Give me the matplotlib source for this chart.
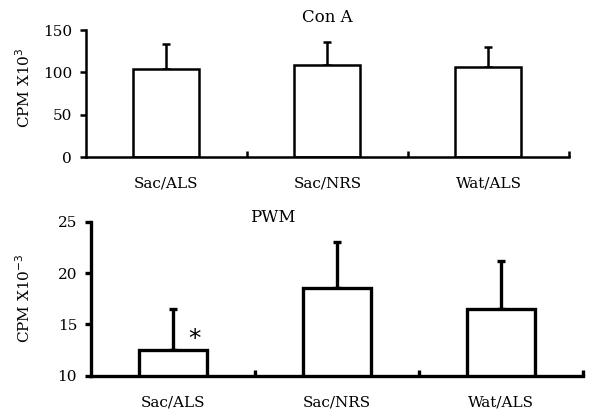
import matplotlib.pyplot as plt
import numpy as np

# data
groups = ["Sac/ALS", "Sac/NRS", "Wat/ALS"]
cona_mean = [103.5, 108.5, 106]
cona_err = [30, 27, 24.5]
pwm_mean = [12.5, 18.55, 16.55]
pwm_err = [4.05, 4.5, 4.6]

plt.rcParams['font.family'] = ['DejaVu Serif', 'DejaVu Sans']
plt.rcParams['font.size'] = 11

fig = plt.figure(figsize=(5.89, 4.17), dpi=100)
x = np.arange(len(groups)) + 0.5


def draw(ax, mean, err, ylim, yticks, lw, title, tx, ty):
    ax.bar(x, mean, width=0.41, color='white', edgecolor='black', linewidth=lw,
           zorder=2)
    ax.errorbar(x, mean, yerr=[np.zeros(len(err)), err], fmt='none',
                ecolor='black', elinewidth=lw, capsize=3, capthick=lw, zorder=1)
    ax.set_xlim(0, 3)
    ax.set_ylim(*ylim)
    ax.set_yticks(yticks)
    ax.set_xticks(x)
    ax.set_xticklabels(groups)
    ax.tick_params(axis='x', length=0, pad=14)
    ax.set_xticks([1, 2, 3], minor=True)
    ax.tick_params(axis='x', which='minor', direction='in', length=4, width=lw)
    ax.tick_params(axis='y', direction='out', length=4, width=lw, pad=6)
    for s in ['top', 'right']:
        ax.spines[s].set_visible(False)
    ax.spines['left'].set_linewidth(lw)
    ax.spines['bottom'].set_linewidth(lw)
    ax.text(tx, ty, title, transform=ax.transAxes, ha='center', va='center',
            fontsize=12)


ax1 = fig.add_axes([0.146, 0.6235, 0.82, 0.3045])
draw(ax1, cona_mean, cona_err, (0, 150), [0, 50, 100, 150], 1.8,
     "Con A", 0.5, 1.1)
fig.text(0.04, 0.79, "CPM X10$^{3}$", rotation=90, ha='center', va='center',
         fontsize=11)

ax2 = fig.add_axes([0.1545, 0.099, 0.8355, 0.369])
draw(ax2, pwm_mean, pwm_err, (10, 25), [10, 15, 20, 25], 2.4,
     "PWM", 0.37, 1.03)
fig.text(0.04, 0.285, "CPM X10$^{-3}$", rotation=90, ha='center', va='center',
         fontsize=11)
ax2.text(x[0] + 0.13, pwm_mean[0] + 1.1, "*", fontsize=18, ha='center',
         va='center', family='DejaVu Sans')

fig.savefig("out.png", dpi=100)
